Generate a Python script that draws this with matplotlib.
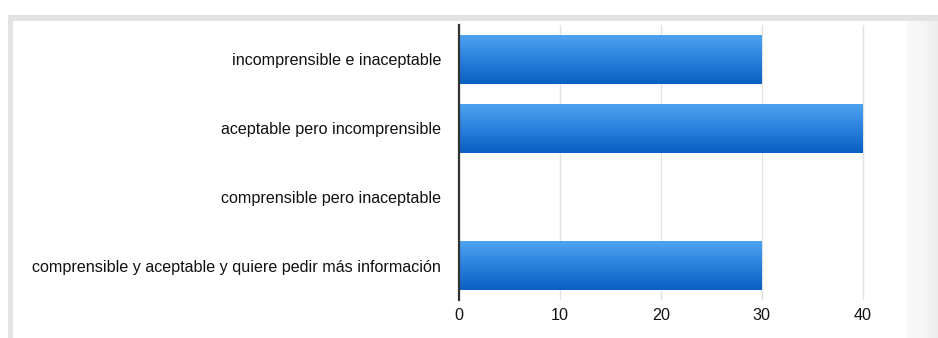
import matplotlib
matplotlib.use('Agg')
import matplotlib.pyplot as plt
import numpy as np
from matplotlib.patches import Rectangle
from matplotlib.colors import LinearSegmentedColormap

# Data
categories = [
    'incomprensible e inaceptable',
    'aceptable pero incomprensible',
    'comprensible pero inaceptable',
    'comprensible y aceptable y quiere pedir más información',
]
values = [30, 40, 0, 30]
x_ticks = [0, 10, 20, 30, 40]

W, H, DPI = 938, 338, 100
plt.rcParams['font.family'] = ['Liberation Sans', 'DejaVu Sans']

fig = plt.figure(figsize=(W / DPI, H / DPI), dpi=DPI)
fig.patch.set_facecolor('white')

# Page frame: light grey band on top and left, shaded panel on right
fig.patches.append(Rectangle((8 / W, 1 - 21 / H), 1, 6 / H, transform=fig.transFigure,
                             facecolor='#e3e3e3', edgecolor='none', zorder=0))
fig.patches.append(Rectangle((8 / W, 0), 5 / W, 1 - 15 / H, transform=fig.transFigure,
                             facecolor='#e3e3e3', edgecolor='none', zorder=0))
side = fig.add_axes([907 / W, 0, 31 / W, 1 - 21 / H])
side.imshow(np.linspace(0, 1, 50).reshape(1, -1), aspect='auto',
            cmap=LinearSegmentedColormap.from_list('side', ['#fafafa', '#f6f6f6', '#ededed']))
side.axis('off')

ax = fig.add_axes([459 / W, 1 - 300 / H, (907 - 459) / W, 275 / H])
ax.set_facecolor('white')

y = np.arange(len(categories))
bars = ax.barh(y, values, height=0.71, color='none', edgecolor='none', zorder=2)

grad = LinearSegmentedColormap.from_list('bar', ['#0a60c2', '#2a80dc', '#4ea3f1'])
for b in bars:
    w = b.get_width()
    if w <= 0:
        continue
    y0 = b.get_y()
    h = b.get_height()
    img = ax.imshow(np.linspace(0, 1, 100).reshape(-1, 1), cmap=grad, aspect='auto',
                    origin='upper', extent=[0, w, y0, y0 + h], zorder=2)
    img.set_clip_path(b)

ax.set_ylim(len(categories) - 0.5, -0.5)
ax.set_xlim(0, 44.4)
ax.set_xticks(x_ticks)
ax.set_yticks(y)
ax.set_yticklabels(categories)

for s in ['top', 'right', 'bottom']:
    ax.spines[s].set_visible(False)
ax.spines['left'].set_color('#333333')
ax.spines['left'].set_linewidth(1.6)
ax.spines['left'].set_zorder(3)

ax.xaxis.grid(True, color='#e2e2e2', linewidth=1)
ax.set_axisbelow(True)
ax.tick_params(axis='both', length=0, labelsize=11.6, colors='#111111')
ax.tick_params(axis='y', pad=13)
ax.tick_params(axis='x', pad=6)

plt.savefig('out.png', dpi=DPI, facecolor='white')
plt.close()
